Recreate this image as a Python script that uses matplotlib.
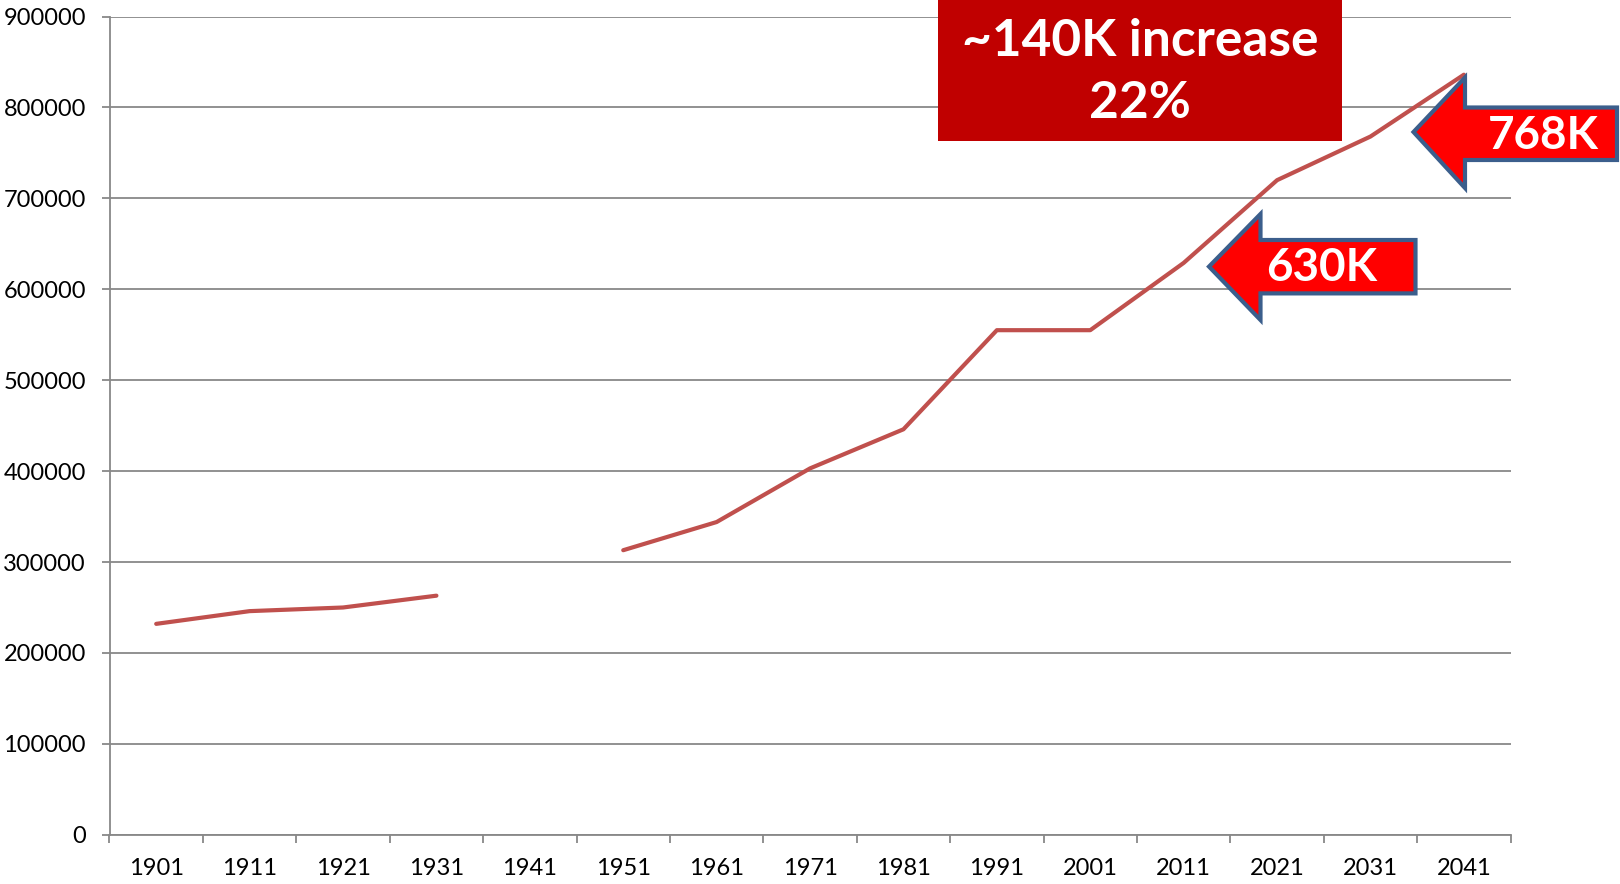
import matplotlib
matplotlib.use('Agg')
import matplotlib.pyplot as plt
from matplotlib.patches import Polygon, Rectangle
import numpy as np

# ---- data ----
years = ['1901', '1911', '1921', '1931', '1941', '1951', '1961', '1971',
         '1981', '1991', '2001', '2011', '2021', '2031', '2041']
population = [232000, 246000, 250000, 263000, np.nan, 313000, 344000, 403000,
              446000, 555000, 555000, 629000, 720000, 768000, 836000]
y_ticks = list(range(0, 900001, 100000))
headline_lines = ['~140K increase', '22%']
callout_2011 = '630K'
callout_2031 = '768K'

W, H = 1620, 884
plt.rcParams['font.family'] = ['Lato', 'DejaVu Sans']

fig = plt.figure(figsize=(W / 100, H / 100), dpi=100)
fig.patch.set_facecolor('white')


def fx(px):
    return px / W


def fy(py):
    return 1 - py / H


ax_left, ax_right, ax_top, ax_bottom = 109.5, 1510.6, 16.5, 834.8
ax = fig.add_axes([fx(ax_left), fy(ax_bottom), (ax_right - ax_left) / W,
                   (ax_bottom - ax_top) / H])

x = np.arange(len(years))
ax.plot(x, population, color='#C0504D', lw=3.0, solid_capstyle='round',
        solid_joinstyle='round', zorder=3)

ax.set_xlim(-0.5, len(years) - 0.5)
ax.set_ylim(0, 900000)
ax.set_yticks(y_ticks)
ax.set_yticklabels([str(v) for v in y_ticks], fontsize=17)
ax.set_xticks(np.arange(-0.5, len(years)))
ax.set_xticklabels([])
ax.set_xticks(x, minor=True)
ax.set_xticklabels(years, minor=True, fontsize=17)

grey = '#888888'
ax.tick_params(axis='x', which='major', length=6, width=1.3, color=grey,
               direction='out')
ax.tick_params(axis='x', which='minor', length=0, pad=17)
ax.tick_params(axis='y', length=6, width=1.3, color=grey, pad=11)
ax.grid(axis='y', color=grey, lw=1.3, zorder=1)
ax.set_axisbelow(True)
for s in ['top', 'right']:
    ax.spines[s].set_visible(False)
for s in ['left', 'bottom']:
    ax.spines[s].set_color(grey)
    ax.spines[s].set_linewidth(1.3)
for lbl in ax.get_xticklabels(minor=True) + ax.get_yticklabels():
    lbl.set_color('black')

# ---- headline box ----
bx0, bx1, by0, by1 = 938, 1342, 0, 140.5
fig.patches.append(Rectangle((fx(bx0), fy(by1)), (bx1 - bx0) / W, (by1 - by0) / H,
                             transform=fig.transFigure, facecolor='#C00000',
                             edgecolor='none', zorder=10))
fig.text(fx(1140), fy(42), headline_lines[0], color='white', fontsize=37,
         fontweight='bold', ha='center', va='center', zorder=11)
fig.text(fx(1140), fy(104), headline_lines[1], color='white', fontsize=37,
         fontweight='bold', ha='center', va='center', zorder=11)


# ---- callout arrows ----
def left_arrow(tip_x, tip_y, head_x, head_top, head_bot, sh_top, sh_bot, right_x):
    pts = [(tip_x, tip_y), (head_x, head_top), (head_x, sh_top), (right_x, sh_top),
           (right_x, sh_bot), (head_x, sh_bot), (head_x, head_bot)]
    pts = [(fx(px), fy(py)) for px, py in pts]
    fig.patches.append(Polygon(pts, closed=True, transform=fig.transFigure,
                               facecolor='#FF0000', edgecolor='#3B5E8C',
                               lw=3.0, joinstyle='miter', zorder=12))


left_arrow(1209, 266.6, 1260.5, 214, 320, 240, 293.4, 1415.5)
fig.text(fx(1322), fy(268), callout_2011, color='white', fontsize=33,
         fontweight='bold', ha='center', va='center', zorder=13)

left_arrow(1413.5, 132, 1465, 77.5, 188, 107.5, 160, 1617)
fig.text(fx(1543), fy(136), callout_2031, color='white', fontsize=33,
         fontweight='bold', ha='center', va='center', zorder=13)

fig.savefig('out.png', dpi=100)
